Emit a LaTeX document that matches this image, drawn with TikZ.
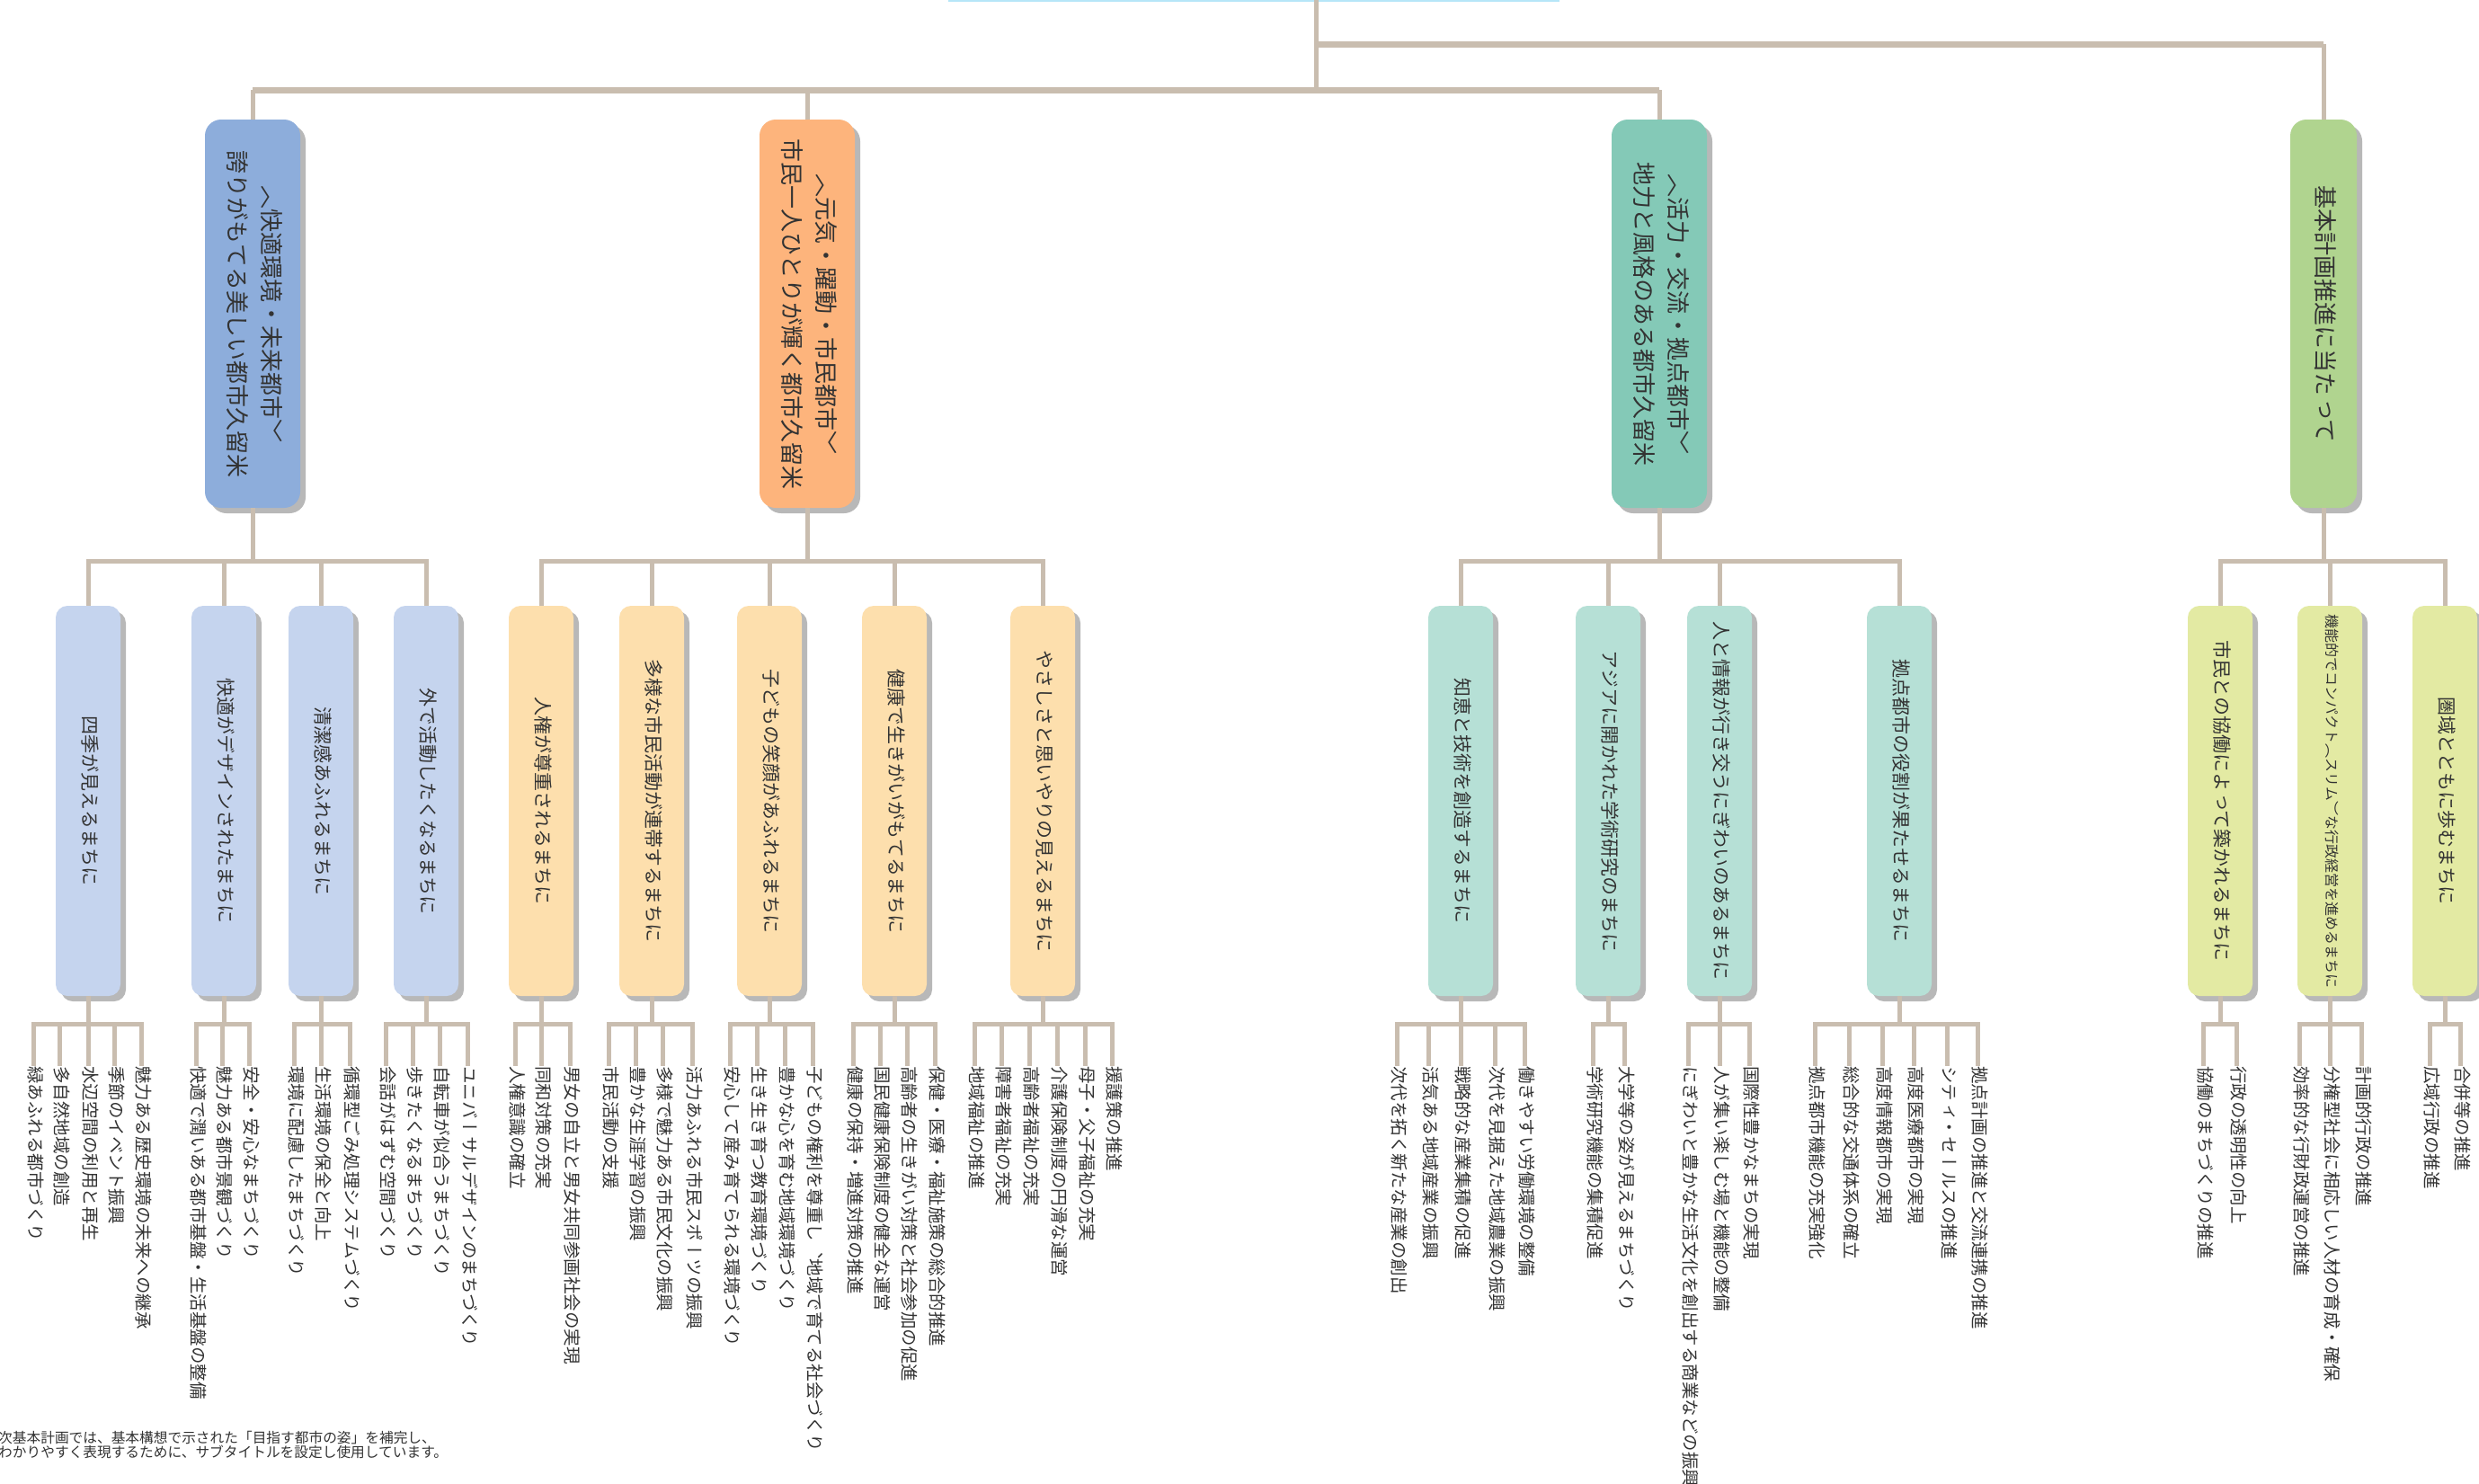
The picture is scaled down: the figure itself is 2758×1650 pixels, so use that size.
\documentclass[tikz,border=0pt]{standalone}
\usepackage{fontspec}
\usepackage{graphicx}
\usetikzlibrary{shadows}
\newfontfamily\jpfont{Noto Sans CJK JP}
\newfontfamily\jpvert[Vertical=RotatedGlyphs]{Noto Sans CJK JP}
\newcommand\tate[1]{\rotatebox{-90}{\jpvert\begin{tabular}{@{}c@{}}#1\end{tabular}}}
\definecolor{linecol}{HTML}{C9BDAF}
\definecolor{txtcol}{HTML}{333333}
\definecolor{rootcol}{HTML}{B6E6F8}
\definecolor{main1}{HTML}{8DADDB}
\definecolor{main2}{HTML}{FDB47C}
\definecolor{main3}{HTML}{84C9B7}
\definecolor{main4}{HTML}{B0D48F}
\definecolor{sub1}{HTML}{C5D4EE}
\definecolor{sub2}{HTML}{FDDFAD}
\definecolor{sub3}{HTML}{B6E0D6}
\definecolor{sub4}{HTML}{E3EAA3}
\tikzset{
  conn/.style={draw=linecol, line width=5pt},
  topbar/.style={draw=linecol, line width=7pt},
  shade/.style={drop shadow={shadow xshift=6pt, shadow yshift=-6pt, fill=black!28, opacity=1}},
  mainbox/.style={shade, rounded corners=18pt, minimum width=106pt, minimum height=432pt,
    inner sep=0pt, text=txtcol, font=\fontsize{26}{38}\selectfont},
  subbox/.style={shade, rounded corners=13pt, minimum width=72pt, minimum height=434pt,
    inner sep=0pt, text=txtcol, font=\fontsize{21}{26}\selectfont},
  leaf/.style={anchor=north, inner sep=0pt, text=txtcol, font=\fontsize{19.5}{24}\selectfont},
}
\begin{document}
\begin{tikzpicture}[x=1pt, y=-1pt]
  \useasboundingbox[fill=white] (0,0) rectangle (2758,1650);
  % top of the chart
  \node[fill=rootcol, minimum width=680pt, minimum height=20pt, inner sep=0pt] (root) at (1395,-8) {};
  \coordinate (trunk) at (1464,0);
  \coordinate (jright) at (1464,49);
  \coordinate (jleft) at (1464,100);

  \node[mainbox, fill=main1] (b1) at (281,349) {\tate{〈快適環境・未来都市〉\\誇りがもてる美しい都市久留米}};
  \node[mainbox, fill=main2] (b2) at (898,349) {\tate{〈元気・躍動・市民都市〉\\市民一人ひとりが輝く都市久留米}};
  \node[mainbox, fill=main3] (b3) at (1846,349) {\tate{〈活力・交流・拠点都市〉\\地力と風格のある都市久留米}};
  \node[mainbox, fill=main4, minimum width=74pt] (b4) at (2585,349) {\tate{基本計画推進に当たって}};

  \draw[conn] (trunk) -- (jleft);
  \draw[topbar] (jright) -- (jright -| b4.north);
  \draw[conn] (jright -| b4.north) -- (b4.north);
  \draw[topbar] (jleft -| b1.north) -- (jleft -| b3.north);
  \foreach \b in {b1,b2,b3}
    \draw[conn] (jleft -| \b.north) -- (\b.north);

  % second level
  \node[subbox, fill=sub1] (s1a) at (98,891) {\tate{四季が見えるまちに}};
  \node[subbox, fill=sub1] (s1b) at (249,891) {\tate{快適がデザインされたまちに}};
  \node[subbox, fill=sub1] (s1c) at (357,891) {\tate{清潔感あふれるまちに}};
  \node[subbox, fill=sub1] (s1d) at (474,891) {\tate{外で活動したくなるまちに}};
  \node[subbox, fill=sub2] (s2a) at (602,891) {\tate{人権が尊重されるまちに}};
  \node[subbox, fill=sub2] (s2b) at (725,891) {\tate{多様な市民活動が連帯するまちに}};
  \node[subbox, fill=sub2] (s2c) at (856,891) {\tate{子どもの笑顔があふれるまちに}};
  \node[subbox, fill=sub2] (s2d) at (995,891) {\tate{健康で生きがいがもてるまちに}};
  \node[subbox, fill=sub2] (s2e) at (1160,891) {\tate{やさしさと思いやりの見えるまちに}};
  \node[subbox, fill=sub3] (s3a) at (1625,891) {\tate{知恵と技術を創造するまちに}};
  \node[subbox, fill=sub3] (s3b) at (1789,891) {\tate{アジアに開かれた学術研究のまちに}};
  \node[subbox, fill=sub3] (s3c) at (1913,891) {\tate{人と情報が行き交うにぎわいのあるまちに}};
  \node[subbox, fill=sub3] (s3d) at (2113,891) {\tate{拠点都市の役割が果たせるまちに}};
  \node[subbox, fill=sub4] (s4a) at (2470,891) {\tate{市民との協働によって築かれるまちに}};
  \node[subbox, fill=sub4, font=\fontsize{16}{20}\selectfont] (s4b) at (2592,891) {\tate{機能的でコンパクト（スリム）な行政経営を進めるまちに}};
  \node[subbox, fill=sub4] (s4c) at (2720,891) {\tate{圏域とともに歩むまちに}};

  \foreach \s in {s1a,s1b,s1c,s1d}
    \draw[conn] (b1.south) -- ++(0,59) -| (\s.north);
  \foreach \s in {s2a,s2b,s2c,s2d,s2e}
    \draw[conn] (b2.south) -- ++(0,59) -| (\s.north);
  \foreach \s in {s3a,s3b,s3c,s3d}
    \draw[conn] (b3.south) -- ++(0,59) -| (\s.north);
  \foreach \s in {s4a,s4b,s4c}
    \draw[conn] (b4.south) -- ++(0,59) -| (\s.north);

  % measures
  \foreach \x/\txt [count=\i] in {37/緑あふれる都市づくり, 66/多自然地域の創造, 98/水辺空間の利用と再生, 127/季節のイベント振興, 157/魅力ある歴史環境の未来への継承}{
    \node[leaf] (s1a-\i) at (\x,1186) {\tate{\txt}};
    \draw[conn] (s1a.south) -- ++(0,31) -| (s1a-\i.north);
  }
  \foreach \x/\txt [count=\i] in {218/快適で潤いある都市基盤・生活基盤の整備, 247/魅力ある都市景観づくり, 277/安全・安心なまちづくり}{
    \node[leaf] (s1b-\i) at (\x,1186) {\tate{\txt}};
    \draw[conn] (s1b.south) -- ++(0,31) -| (s1b-\i.north);
  }
  \foreach \x/\txt [count=\i] in {327/環境に配慮したまちづくり, 357/生活環境の保全と向上, 389/循環型ごみ処理システムづくり}{
    \node[leaf] (s1c-\i) at (\x,1186) {\tate{\txt}};
    \draw[conn] (s1c.south) -- ++(0,31) -| (s1c-\i.north);
  }
  \foreach \x/\txt [count=\i] in {429/会話がはずむ空間づくり, 459/歩きたくなるまちづくり, 489/自転車が似合うまちづくり, 520/ユニバーサルデザインのまちづくり}{
    \node[leaf] (s1d-\i) at (\x,1186) {\tate{\txt}};
    \draw[conn] (s1d.south) -- ++(0,31) -| (s1d-\i.north);
  }
  \foreach \x/\txt [count=\i] in {573/人権意識の確立, 602/同和対策の充実, 634/男女の自立と男女共同参画社会の実現}{
    \node[leaf] (s2a-\i) at (\x,1186) {\tate{\txt}};
    \draw[conn] (s2a.south) -- ++(0,31) -| (s2a-\i.north);
  }
  \foreach \x/\txt [count=\i] in {677/市民活動の支援, 707/豊かな生涯学習の振興, 737/多様で魅力ある市民文化の振興, 770/活力あふれる市民スポーツの振興}{
    \node[leaf] (s2b-\i) at (\x,1186) {\tate{\txt}};
    \draw[conn] (s2b.south) -- ++(0,31) -| (s2b-\i.north);
  }
  \foreach \x/\txt [count=\i] in {812/安心して産み育てられる環境づくり, 842/生き生き育つ教育環境づくり, 873/豊かな心を育む地域環境づくり, 904/子どもの権利を尊重し、地域で育てる社会づくり}{
    \node[leaf] (s2c-\i) at (\x,1186) {\tate{\txt}};
    \draw[conn] (s2c.south) -- ++(0,31) -| (s2c-\i.north);
  }
  \foreach \x/\txt [count=\i] in {949/健康の保持・増進対策の推進, 979/国民健康保険制度の健全な運営, 1009/高齢者の生きがい対策と社会参加の促進, 1040/保健・医療・福祉施策の総合的推進}{
    \node[leaf] (s2d-\i) at (\x,1186) {\tate{\txt}};
    \draw[conn] (s2d.south) -- ++(0,31) -| (s2d-\i.north);
  }
  \foreach \x/\txt [count=\i] in {1084/地域福祉の推進, 1114/障害者福祉の充実, 1145/高齢者福祉の充実, 1176/介護保険制度の円滑な運営, 1207/母子・父子福祉の充実, 1237/援護策の推進}{
    \node[leaf] (s2e-\i) at (\x,1186) {\tate{\txt}};
    \draw[conn] (s2e.south) -- ++(0,31) -| (s2e-\i.north);
  }
  \foreach \x/\txt [count=\i] in {1554/次代を拓く新たな産業の創出, 1589/活気ある地域産業の振興, 1625/戦略的な産業集積の促進, 1663/次代を見据えた地域農業の振興, 1696/働きやすい労働環境の整備}{
    \node[leaf] (s3a-\i) at (\x,1186) {\tate{\txt}};
    \draw[conn] (s3a.south) -- ++(0,31) -| (s3a-\i.north);
  }
  \foreach \x/\txt [count=\i] in {1772/学術研究機能の集積促進, 1807/大学等の姿が見えるまちづくり}{
    \node[leaf] (s3b-\i) at (\x,1186) {\tate{\txt}};
    \draw[conn] (s3b.south) -- ++(0,31) -| (s3b-\i.north);
  }
  \foreach \x/\txt [count=\i] in {1878/にぎわいと豊かな生活文化を創出する商業などの振興, 1913/人が集い楽しむ場と機能の整備, 1946/国際性豊かなまちの実現}{
    \node[leaf] (s3c-\i) at (\x,1186) {\tate{\txt}};
    \draw[conn] (s3c.south) -- ++(0,31) -| (s3c-\i.north);
  }
  \foreach \x/\txt [count=\i] in {2019/拠点都市機能の充実強化, 2057/総合的な交通体系の確立, 2094/高度情報都市の実現, 2129/高度医療都市の実現, 2166/シティ・セールスの推進, 2200/拠点計画の推進と交流連携の推進}{
    \node[leaf] (s3d-\i) at (\x,1186) {\tate{\txt}};
    \draw[conn] (s3d.south) -- ++(0,31) -| (s3d-\i.north);
  }
  \foreach \x/\txt [count=\i] in {2451/協働のまちづくりの推進, 2488/行政の透明性の向上}{
    \node[leaf] (s4a-\i) at (\x,1186) {\tate{\txt}};
    \draw[conn] (s4a.south) -- ++(0,31) -| (s4a-\i.north);
  }
  \foreach \x/\txt [count=\i] in {2558/効率的な行財政運営の推進, 2592/分権型社会に相応しい人材の育成・確保, 2627/計画的行政の推進}{
    \node[leaf] (s4b-\i) at (\x,1186) {\tate{\txt}};
    \draw[conn] (s4b.south) -- ++(0,31) -| (s4b-\i.north);
  }
  \foreach \x/\txt [count=\i] in {2703/広域行政の推進, 2737/合併等の推進}{
    \node[leaf] (s4c-\i) at (\x,1186) {\tate{\txt}};
    \draw[conn] (s4c.south) -- ++(0,31) -| (s4c-\i.north);
  }

  % footnote
  \node[anchor=north west, inner sep=0pt, align=left, text=txtcol,
    font=\jpfont\fontsize{15.7}{16}\selectfont] (note) at (-2,1592)
    {次基本計画では、基本構想で示された「目指す都市の姿」を補完し、\\わかりやすく表現するために、サブタイトルを設定し使用しています。};
\end{tikzpicture}
\end{document}
